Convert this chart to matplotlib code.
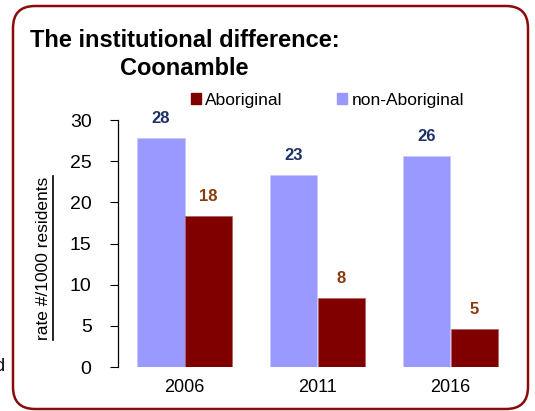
import matplotlib
matplotlib.use("Agg")
import matplotlib.pyplot as plt
import numpy as np
from matplotlib.patches import FancyBboxPatch, Patch
from matplotlib.lines import Line2D

plt.rcParams['font.family'] = ['Liberation Sans', 'DejaVu Sans']

# data
years = ["2006", "2011", "2016"]
aboriginal = [18.3, 8.4, 4.6]
non_aboriginal = [27.8, 23.3, 25.6]
yticks = [0, 5, 10, 15, 20, 25, 30]

c_ab = "#800000"
c_non = "#9999ff"
c_lab_ab = "#8b3a0c"
c_lab_non = "#1c3166"
c_border = "#8b0a0a"

W, H = 535, 411
fig = plt.figure(figsize=(W / 100, H / 100), dpi=100)
ax = fig.add_axes([118 / W, 1 - 367 / H, 399 / W, 247 / H])

x = np.arange(len(years))
bw = 0.355
b1 = ax.bar(x - bw / 2, non_aboriginal, bw, color=c_non, edgecolor="#c8c8ff", linewidth=0.5)
b2 = ax.bar(x + bw / 2, aboriginal, bw, color=c_ab, edgecolor="#b06060", linewidth=0.5)

for rect, v in zip(b1, non_aboriginal):
    ax.annotate(f"{v:.0f}", (rect.get_x() + rect.get_width() / 2, v),
                xytext=(0, 11), textcoords="offset points", ha="center",
                va="baseline", fontsize=12, fontweight="bold", color=c_lab_non)
for rect, v in zip(b2, aboriginal):
    ax.annotate(f"{v:.0f}", (rect.get_x() + rect.get_width() / 2, v),
                xytext=(0, 11), textcoords="offset points", ha="center",
                va="baseline", fontsize=12, fontweight="bold", color=c_lab_ab)

ax.set_xlim(-0.5, 2.5)
ax.set_ylim(0, 30)
ax.set_yticks(yticks)
ax.set_xticks(x)
ax.set_xticklabels(years)
ax.tick_params(axis="x", length=0, pad=8.5, labelsize=13)
ax.tick_params(axis="y", direction="out", length=6, width=0.8, pad=13, labelsize=14)
for s in ["top", "right", "bottom"]:
    ax.spines[s].set_visible(False)
ax.spines["left"].set_linewidth(0.9)

# legend
handles = [Patch(color=c_ab, label="Aboriginal"), Patch(color=c_non, label="non-Aboriginal")]
fig.legend(handles=handles, loc="center left", bbox_to_anchor=(182 / W, 1 - 100 / H),
           ncol=2, frameon=False, fontsize=12.5, handlelength=0.6, handleheight=0.6,
           handletextpad=0.25, columnspacing=3.1, borderpad=0)

# titles
fig.text(30 / W, 1 - 47 / H, "The institutional difference:", fontsize=17,
         fontweight="bold", ha="left", va="baseline")
fig.text(120 / W, 1 - 75 / H, "Coonamble", fontsize=17,
         fontweight="bold", ha="left", va="baseline")

# y label, underlined
fig.text(44 / W, 1 - 258 / H, "rate #/1000 residents", rotation=90, fontsize=12.5,
         ha="center", va="center")
fig.add_artist(Line2D([53 / W, 53 / W], [1 - 176 / H, 1 - 340 / H],
                      transform=fig.transFigure, color="black", linewidth=1.2))

# cut-off text at the left edge
fig.text(-6 / W, 1 - 371 / H, "d", fontsize=13, ha="left", va="baseline")

# rounded border
box = FancyBboxPatch((0.13, 0.02), 5.15, 4.03,
                     boxstyle="round,pad=0,rounding_size=0.22",
                     transform=fig.dpi_scale_trans, facecolor="none",
                     edgecolor=c_border, linewidth=1.8)
fig.add_artist(box)

fig.savefig("out.png", dpi=100)
